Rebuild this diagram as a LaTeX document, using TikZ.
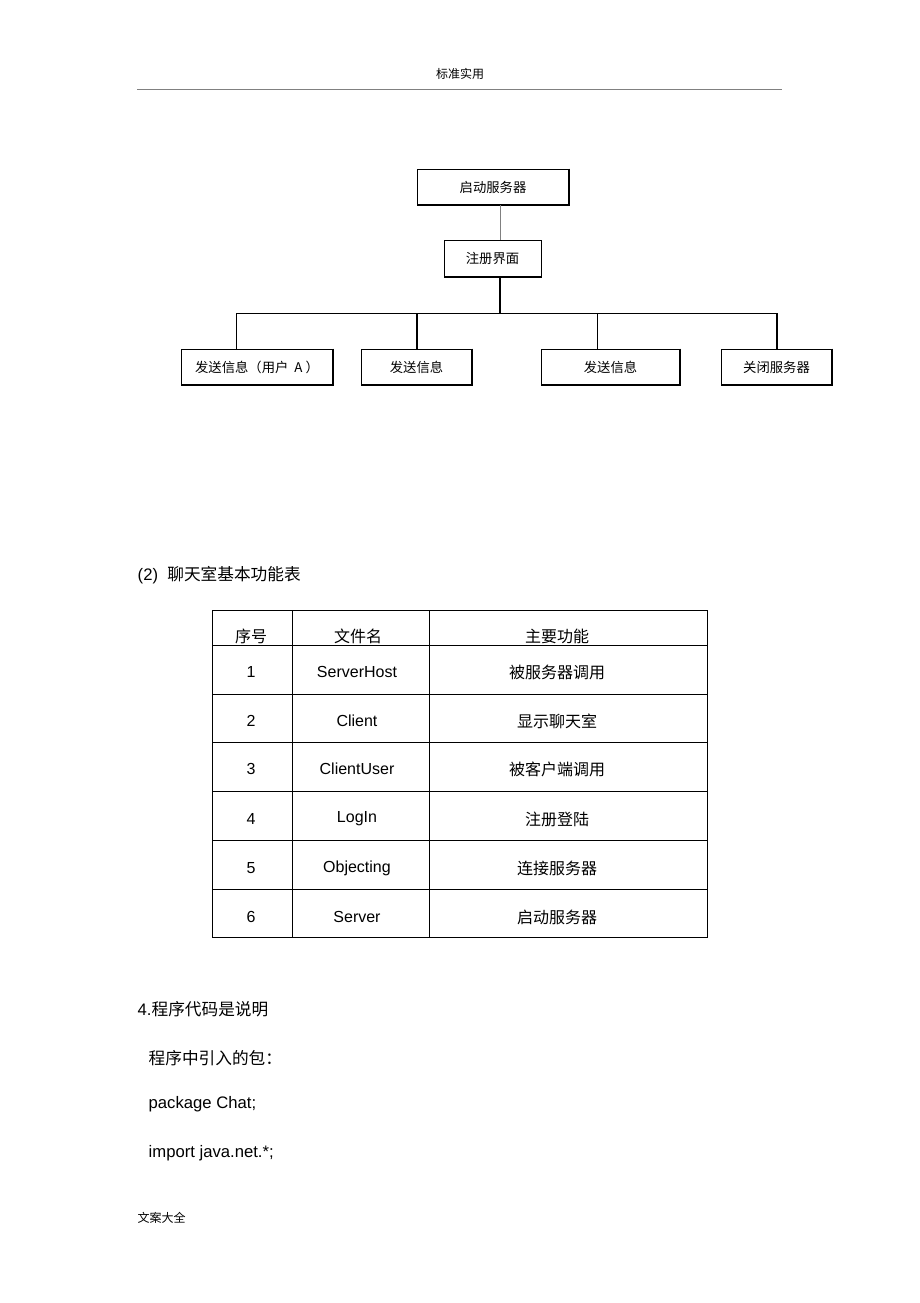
\documentclass[tikz,border=0pt]{standalone}
\usepackage{fontspec}
\setmainfont{Liberation Sans}
\newfontfamily\cjk{Noto Sans CJK SC}
\tikzset{
  box/.style={draw,thin,minimum height=27pt,inner sep=0pt,font=\cjk\fontsize{10}{12}\selectfont},
  cell/.style={font=\fontsize{12}{14}\selectfont},
  ccell/.style={font=\cjk\fontsize{12}{14}\selectfont},
  line/.style={font=\fontsize{12.5}{15}\selectfont,anchor=west}
}
\begin{document}
\begin{tikzpicture}[x=0.75pt,y=-0.75pt]
\useasboundingbox (0,0) rectangle (920,1303);
% header
\node (hd) at (460,74) {\cjk\fontsize{9}{11}\selectfont 标准实用};
\draw[gray] (137,89) -- (782,89);
% tree
\node[box,minimum width=114pt] (srv) at (493,187) {启动服务器};
\node[box,minimum width=73pt] (reg) at (492.5,258.5) {注册界面};
\node[box,minimum width=114pt] (sa) at (257,367) {发送信息（用户\ \ A\ ）};
\node[box,minimum width=83pt] (sb) at (416.5,367) {发送信息};
\node[box,minimum width=104pt] (sc) at (610.5,367) {发送信息};
\node[box,minimum width=83pt] (cl) at (776.5,367) {关闭服务器};
\foreach \n in {srv,reg,sa,sb,sc,cl}
  \draw[line width=1.2pt] (\n.north east) -- (\n.south east) -- (\n.south west);
\draw[gray] (srv.south -| 500,0) -- (reg.north -| 500,0);
\draw[line width=1.2pt] (reg.south -| 500,0) -- (500,313) coordinate (hub);
\draw (236,313) -- (777,313);
\draw (236,313) -- (sa.north -| 236,0);
\draw[line width=1.2pt] (417,313) -- (sb.north -| 417,0);
\draw (597,313) -- (sc.north -| 597,0);
\draw[line width=1.2pt] (777,313) -- (cl.north -| 777,0);
% table
\node[line] (t2) at (133,575) {(2)\ \ {\cjk 聊天室基本功能表}};
\draw (212,610) rectangle (707,937);
\foreach \y in {645,694,742,791,840,889} \draw (212,\y) -- (707,\y);
\foreach \x in {292,429} \draw (\x,610) -- (\x,937);
\node[ccell] (h1) at (251,636) {序号};
\node[ccell] (h2) at (358,636) {文件名};
\node[ccell] (h3) at (557,636) {主要功能};
\foreach \i/\y/\f/\g in {1/672/ServerHost/被服务器调用,2/721/Client/显示聊天室,3/769/ClientUser/被客户端调用,4/819/LogIn/注册登陆,5/868/Objecting/连接服务器,6/917/Server/启动服务器}{
  \node[cell] (n\i) at (251,\y) {\i};
  \node[cell] (f\i) at (357,\y) {\f};
  \node[ccell] (g\i) at (557,\y) {\g};
}
\draw (212,645) -- (707,645);
% text
\node[line] (s4) at (133,1009) {4.{\cjk 程序代码是说明}};
\node[line] (p1) at (144,1058) {\cjk 程序中引入的包：};
\node[line] (p2) at (144,1104) {package Chat;};
\node[line] (p3) at (144,1153) {import java.net.*;};
\node[anchor=west] (ft) at (133,1218) {\cjk\fontsize{9}{11}\selectfont 文案大全};
\end{tikzpicture}
\end{document}
